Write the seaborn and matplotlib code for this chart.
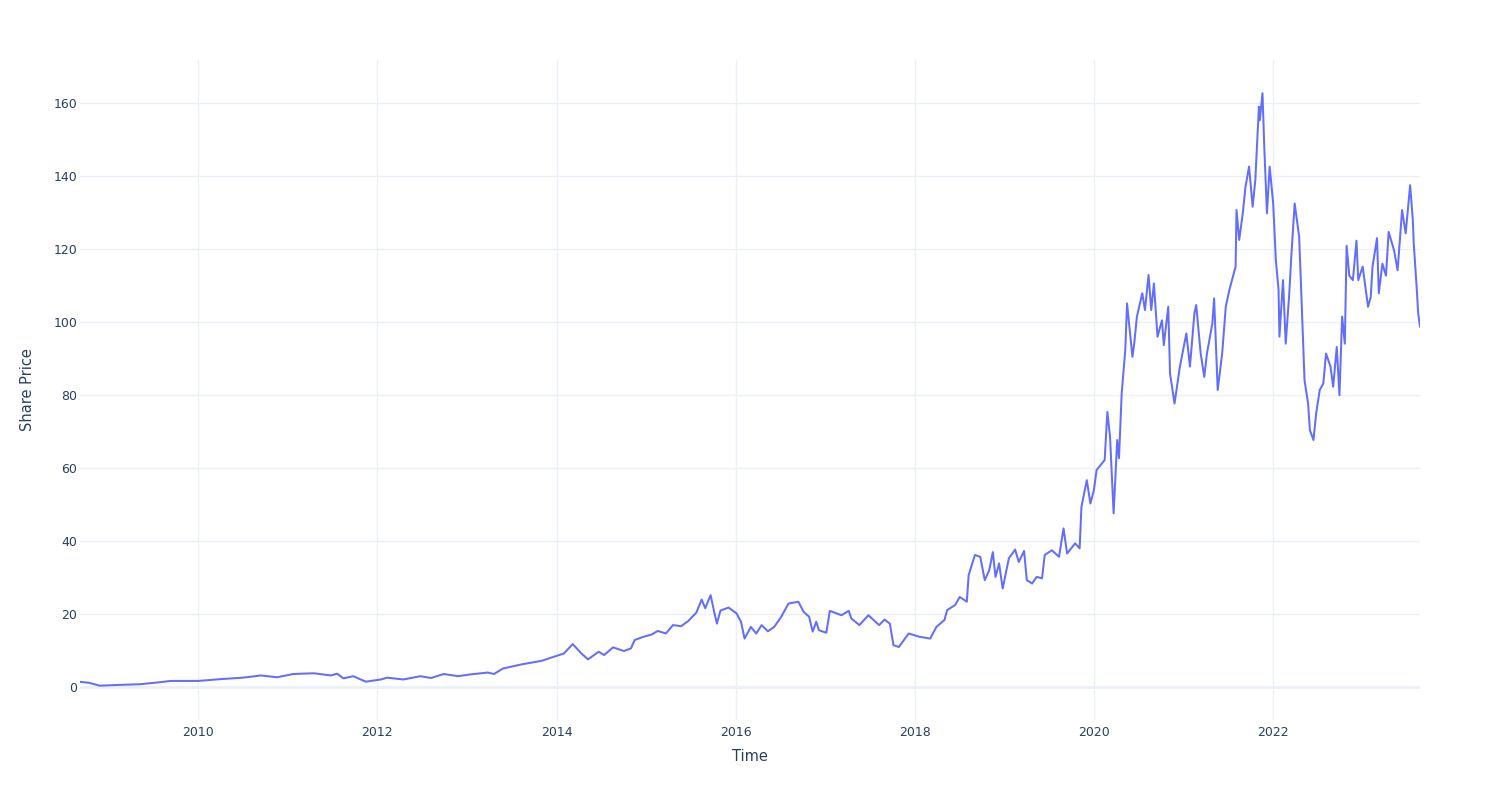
import numpy as np
import pandas as pd
import matplotlib
matplotlib.use("Agg")
import matplotlib.pyplot as plt
import matplotlib.dates as mdates
import seaborn as sns

# Decimal-year sample points
years = [
    2008.68, 2008.78, 2008.90, 2009.10, 2009.35, 2009.55, 2009.69, 2010.00, 2010.25, 2010.50,
    2010.70, 2010.88, 2011.06, 2011.29, 2011.48, 2011.55, 2011.62, 2011.73, 2011.87, 2012.04,
    2012.11, 2012.29, 2012.48, 2012.60, 2012.74, 2012.90, 2013.04, 2013.23, 2013.30, 2013.40,
    2013.60, 2013.83, 2013.94, 2014.08, 2014.18, 2014.27, 2014.35, 2014.47, 2014.53, 2014.63,
    2014.75, 2014.83, 2014.87, 2014.97, 2015.06, 2015.13, 2015.22, 2015.30, 2015.39, 2015.47,
    2015.56, 2015.62, 2015.66, 2015.72, 2015.76, 2015.79, 2015.83, 2015.92, 2016.01, 2016.06,
    2016.10, 2016.17, 2016.23, 2016.29, 2016.36, 2016.43, 2016.51, 2016.59, 2016.70, 2016.76,
    2016.82, 2016.86, 2016.90, 2016.93, 2017.01, 2017.05, 2017.18, 2017.26, 2017.29, 2017.38,
    2017.48, 2017.60, 2017.66, 2017.72, 2017.76, 2017.82, 2017.93, 2018.05, 2018.17, 2018.24,
    2018.33, 2018.36, 2018.45, 2018.50, 2018.58, 2018.60, 2018.67, 2018.73, 2018.78, 2018.83,
    2018.87, 2018.90, 2018.94, 2018.98, 2019.05, 2019.12, 2019.16, 2019.22, 2019.25, 2019.31,
    2019.36, 2019.42, 2019.45, 2019.53, 2019.61, 2019.66, 2019.70, 2019.79, 2019.84, 2019.86,
    2019.92, 2019.96, 2020.00, 2020.03, 2020.12, 2020.15, 2020.18, 2020.22, 2020.26, 2020.28,
    2020.31, 2020.35, 2020.37, 2020.43, 2020.45, 2020.48, 2020.54, 2020.57, 2020.61, 2020.64,
    2020.67, 2020.71, 2020.76, 2020.78, 2020.83, 2020.85, 2020.90, 2020.96, 2021.03, 2021.07,
    2021.12, 2021.14, 2021.19, 2021.23, 2021.26, 2021.32, 2021.34, 2021.38, 2021.43, 2021.47,
    2021.51, 2021.54, 2021.58, 2021.59, 2021.62, 2021.66, 2021.69, 2021.73, 2021.77, 2021.80,
    2021.84, 2021.85, 2021.88, 2021.90, 2021.93, 2021.96, 2022.00, 2022.03, 2022.06, 2022.07,
    2022.11, 2022.14, 2022.18, 2022.20, 2022.24, 2022.29, 2022.31, 2022.35, 2022.39, 2022.41,
    2022.45, 2022.48, 2022.52, 2022.56, 2022.59, 2022.64, 2022.67, 2022.71, 2022.74, 2022.77,
    2022.80, 2022.82, 2022.85, 2022.89, 2022.93, 2022.95, 2023.00, 2023.06, 2023.09, 2023.11,
    2023.16, 2023.18, 2023.22, 2023.26, 2023.29, 2023.35, 2023.39, 2023.44, 2023.48, 2023.53,
    2023.56, 2023.57, 2023.60, 2023.62, 2023.64,
]

prices = [
    1.45, 1.2, 0.4, 0.6, 0.8, 1.3, 1.7, 1.7, 2.2, 2.6,
    3.2, 2.7, 3.6, 3.8, 3.2, 3.7, 2.4, 3.0, 1.5, 2.1,
    2.6, 2.1, 3.0, 2.5, 3.6, 3.0, 3.5, 4.0, 3.6, 5.1,
    6.2, 7.2, 8.1, 9.2, 11.8, 9.4, 7.6, 9.7, 8.8, 10.9,
    9.9, 10.6, 12.9, 13.8, 14.4, 15.4, 14.7, 17.0, 16.7, 18.1,
    20.4, 24.0, 21.6, 25.2, 20.6, 17.4, 21.0, 21.8, 20.2, 17.9,
    13.3, 16.5, 14.7, 17.0, 15.3, 16.5, 19.3, 22.9, 23.4, 20.6,
    19.3, 15.2, 17.9, 15.6, 14.9, 20.9, 19.7, 20.9, 18.8, 17.0,
    19.7, 17.0, 18.5, 17.4, 11.5, 11.0, 14.7, 13.8, 13.3, 16.5,
    18.4, 21.1, 22.5, 24.7, 23.4, 30.7, 36.2, 35.7, 29.3, 32.0,
    37.0, 30.2, 33.9, 27.0, 35.3, 37.7, 34.3, 37.3, 29.3, 28.4,
    30.2, 29.8, 36.2, 37.5, 35.7, 43.5, 36.6, 39.4, 38.0, 49.4,
    56.7, 50.3, 54.0, 59.5, 62.2, 75.4, 68.6, 47.6, 67.7, 62.7,
    80.4, 92.3, 105.1, 90.5, 94.1, 101.5, 107.9, 103.3, 112.9, 103.3,
    110.6, 96.0, 100.5, 93.7, 104.2, 85.9, 77.7, 87.8, 96.9, 87.8,
    102.4, 104.7, 91.4, 85.0, 91.4, 99.6, 106.5, 81.4, 91.4, 104.2,
    108.8, 111.5, 115.2, 130.7, 122.5, 129.8, 137.0, 142.6, 131.6, 138.9,
    159.0, 155.3, 162.7, 148.0, 129.8, 142.6, 132.5, 117.0, 108.8, 96.0,
    111.5, 94.1, 107.9, 117.0, 132.5, 123.4, 110.6, 84.1, 77.7, 70.4,
    67.7, 75.0, 81.4, 83.2, 91.4, 87.8, 82.3, 93.2, 80.0, 101.5,
    94.1, 120.9, 112.7, 111.5, 122.3, 111.5, 115.2, 104.2, 106.9, 115.2,
    123.0, 107.9, 116.0, 112.7, 124.7, 119.7, 114.2, 130.7, 124.3, 137.5,
    127.9, 121.6, 110.6, 102.4, 98.7,
]

y_ticks = [0, 20, 40, 60, 80, 100, 120, 140, 160]


def to_dates(decimal_years):
    arr = np.asarray(decimal_years, dtype=float)
    whole = arr.astype(int)
    base = pd.to_datetime([f"{w}-01-01" for w in whole])
    return base + pd.to_timedelta((arr - whole) * 365.25, unit="D")


df = pd.DataFrame({"Time": to_dates(years), "Share Price": prices})

sns.set_theme(style="white")
plt.rcParams["font.family"] = ["DejaVu Sans"]

TEXT = "#2a3f5f"
GRID = "#EBF0F8"
LINE = "#636EFA"

fig = plt.figure(figsize=(15, 8), dpi=100)
ax = fig.add_axes([80 / 1500, 1 - 720 / 800, 1340 / 1500, 660 / 800])

sns.lineplot(data=df, x="Time", y="Share Price", ax=ax, color=LINE, linewidth=1.45, zorder=3)

ax.set_xlim(df["Time"].min(), df["Time"].max())
ax.set_ylim(-9.0, 171.8)
ax.set_yticks(y_ticks)
ax.xaxis.set_major_locator(mdates.YearLocator(2))
ax.xaxis.set_major_formatter(mdates.DateFormatter("%Y"))

ax.grid(True, color=GRID, linewidth=1.0, zorder=0)
ax.axhline(0, color=GRID, linewidth=2.0, zorder=1)
for s in ax.spines.values():
    s.set_visible(False)

ax.tick_params(axis="both", length=0, labelsize=9, labelcolor=TEXT)
ax.tick_params(axis="x", pad=4)
ax.tick_params(axis="y", pad=2)

ax.set_xlabel("Time", fontsize=10.5, color=TEXT, labelpad=7.5)
ax.set_ylabel("Share Price", fontsize=10.5, color=TEXT, labelpad=13.5)

fig.savefig("out.png", dpi=100, facecolor="white")
